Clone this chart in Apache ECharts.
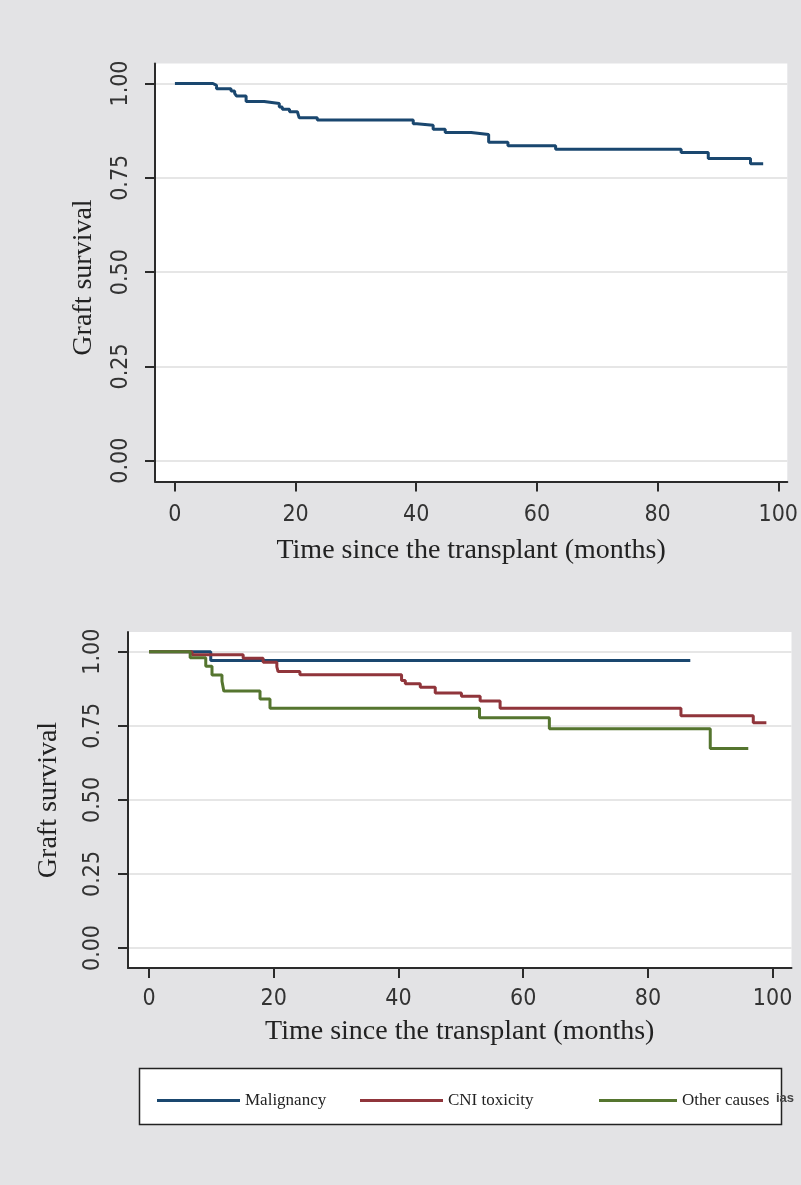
<!DOCTYPE html>
<html>
<head>
<meta charset="utf-8">
<script src="https://cdn.jsdelivr.net/npm/echarts@6/dist/echarts.min.js"></script>
<style>
  html, body { margin: 0; padding: 0; background: #e3e3e5; }
  #chart { width: 801px; height: 1185px; }
</style>
</head>
<body>
<div id="chart"></div>
<script>
// ---- Data ----
const xTicks = [0, 20, 40, 60, 80, 100];
const yTicks = [0, 0.25, 0.5, 0.75, 1];

// Top panel: overall graft survival
const overallTime = [0, 6.3, 6.9, 9.3, 9.9, 10.2, 11.8, 14.8, 17.3, 17.8, 19.0, 20.3, 20.6, 23.6, 39.5, 40.1, 42.8, 44.8, 49.1, 52.0, 55.2, 63.1, 83.9, 88.4, 95.4, 97.5];
const overallSurv = [1.0, 0.995, 0.986, 0.980, 0.974, 0.967, 0.952, 0.947, 0.938, 0.932, 0.925, 0.921, 0.909, 0.903, 0.893, 0.889, 0.879, 0.870, 0.865, 0.844, 0.835, 0.826, 0.817, 0.801, 0.787, 0.787];

// Bottom panel: by cause
const seriesNames = ['Malignancy', 'CNI toxicity', 'Other causes'];
const maligTime = [0, 9.9, 86.8];
const maligSurv = [1.0, 0.970, 0.970];
const cniTime = [0, 6.9, 15.1, 18.3, 20.5, 20.7, 24.2, 40.5, 41.1, 43.5, 45.9, 50.1, 53.1, 56.3, 85.3, 96.9, 99.0];
const cniSurv = [1.0, 0.990, 0.978, 0.964, 0.949, 0.933, 0.922, 0.903, 0.892, 0.880, 0.861, 0.850, 0.834, 0.809, 0.784, 0.760, 0.760];
const otherTime = [0, 6.6, 9.1, 10.1, 11.7, 12.0, 17.8, 19.4, 53.0, 64.2, 90.0, 96.1];
const otherSurv = [1.0, 0.980, 0.951, 0.921, 0.900, 0.867, 0.840, 0.809, 0.777, 0.740, 0.673, 0.673];

const xTitle = 'Time since the transplant (months)';
const yTitle = 'Graft survival';

// ---- Styling ----
function hasFont(name) {
  const c = document.createElement('canvas').getContext('2d');
  const s = '0.123456789 Mgl';
  c.font = '40px monospace'; const a = c.measureText(s).width;
  c.font = "40px '" + name + "', monospace"; const b = c.measureText(s).width;
  c.font = '40px serif'; const d = c.measureText(s).width;
  c.font = "40px '" + name + "', serif"; const e = c.measureText(s).width;
  return a !== b || d !== e;
}
let TICK_FONT = "'Liberation Sans', Arial, sans-serif", TICK_SIZE = 22;
if (hasFont('Liberation Sans Narrow')) { TICK_FONT = "'Liberation Sans Narrow', sans-serif"; TICK_SIZE = 26; }
else if (hasFont('DejaVu Sans Condensed')) { TICK_FONT = "'DejaVu Sans Condensed', sans-serif"; TICK_SIZE = 23; }

const C_NAVY = '#1a476f', C_MAROON = '#90353b', C_GREEN = '#55752f';
const SERIF = "'Liberation Serif', 'Times New Roman', serif";
const AXIS_COLOR = '#2b2b2b';
const zip = (xs, ys) => xs.map((x, i) => [x, ys[i]]);

function xAxisCfg(gridIndex, min, max, nameGap, labelMargin) {
  return {
    type: 'value', gridIndex, min, max,
    name: xTitle, nameLocation: 'middle', nameGap,
    nameTextStyle: { fontFamily: SERIF, fontSize: 28, color: '#222' },
    axisLine: { show: true, onZero: false, lineStyle: { color: AXIS_COLOR, width: 2 } },
    axisTick: { show: true, length: 10, customValues: xTicks, lineStyle: { color: AXIS_COLOR, width: 2 } },
    axisLabel: { customValues: xTicks, margin: labelMargin, fontFamily: TICK_FONT, fontSize: TICK_SIZE, color: '#333' },
    splitLine: { show: false }
  };
}
function yAxisCfg(gridIndex, min, max, nameGap, labelMargin, namePad) {
  return {
    type: 'value', gridIndex, min, max,
    name: yTitle, nameLocation: 'middle', nameGap, nameRotate: 90,
    nameTextStyle: { fontFamily: SERIF, fontSize: 28, color: '#222', padding: namePad },
    axisLine: { show: true, onZero: false, lineStyle: { color: AXIS_COLOR, width: 2 } },
    axisTick: { show: true, length: 10, customValues: yTicks, lineStyle: { color: AXIS_COLOR, width: 2 } },
    axisLabel: { customValues: yTicks, rotate: 90, margin: labelMargin, fontFamily: TICK_FONT, fontSize: TICK_SIZE, color: '#333',
      formatter: v => v.toFixed(2) },
    splitLine: { show: true, lineStyle: { color: '#dedede', width: 1.5 } }
  };
}
function stepSeries(name, xi, yi, xs, ys, color, z) {
  return {
    name, type: 'line', xAxisIndex: xi, yAxisIndex: yi, step: 'end',
    data: zip(xs, ys), symbol: 'none', z,
    lineStyle: { color, width: 3 }, itemStyle: { color }, clip: false
  };
}
const legendText = { fontFamily: SERIF, fontSize: 17, color: '#222' };

const chart = echarts.init(document.getElementById('chart'), null, { renderer: 'canvas' });
chart.setOption({
  backgroundColor: '#e3e3e5',
  animation: false,
  grid: [
    { left: 155, right: 10, top: 63.5, bottom: 1185 - 481.5, show: true, backgroundColor: '#ffffff', borderWidth: 0 },
    { left: 128, right: 9.5, top: 632, bottom: 1185 - 968, show: true, backgroundColor: '#ffffff', borderWidth: 0 }
  ],
  xAxis: [
    xAxisCfg(0, -3.3, 101.5, 55, 22),
    xAxisCfg(1, -3.37, 103.03, 50, 20)
  ],
  yAxis: [
    yAxisCfg(0, -0.0551, 1.053, 57, 22, [0, 10, 0, 0]),
    yAxisCfg(1, -0.0675, 1.0665, 65, 23, [0, 0, 0, 0])
  ],
  legend: [
    { data: [seriesNames[0]], left: 152, top: 1087, itemWidth: 83, itemHeight: 3, icon: 'rect', textStyle: legendText },
    { data: [seriesNames[1]], left: 355, top: 1087, itemWidth: 83, itemHeight: 3, icon: 'rect', textStyle: legendText },
    { data: [seriesNames[2]], left: 594, top: 1087, itemWidth: 78, itemHeight: 3, icon: 'rect', textStyle: legendText }
  ],
  graphic: [
    { type: 'rect', z: -1, shape: { x: 139.5, y: 1068.5, width: 642, height: 56 },
      style: { fill: '#ffffff', stroke: '#222', lineWidth: 1.5 } },
    { type: 'text', left: 776, top: 1092, z: 10,
      style: { text: 'ias', font: "bold 13px 'Liberation Sans', Arial, sans-serif", fill: '#444' } }
  ],
  series: [
    stepSeries('Overall', 0, 0, overallTime, overallSurv, C_NAVY, 3),
    stepSeries(seriesNames[0], 1, 1, maligTime, maligSurv, C_NAVY, 3),
    stepSeries(seriesNames[1], 1, 1, cniTime, cniSurv, C_MAROON, 4),
    stepSeries(seriesNames[2], 1, 1, otherTime, otherSurv, C_GREEN, 5)
  ]
});
</script>
</body>
</html>
